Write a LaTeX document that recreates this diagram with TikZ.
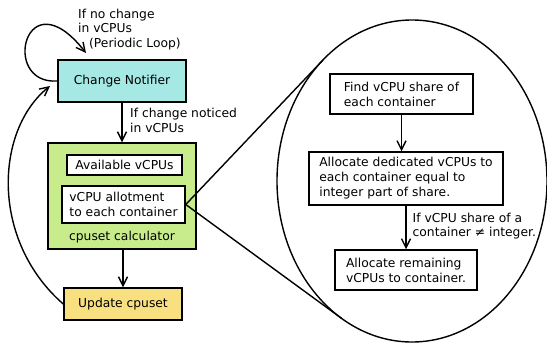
\documentclass[tikz,border=0pt]{standalone}
\usepackage{fontspec}
\setmainfont{DejaVu Sans}
\usetikzlibrary{arrows.meta,shapes.geometric}
\definecolor{notifycol}{RGB}{166,232,228}
\definecolor{calccol}{RGB}{200,236,140}
\definecolor{updatecol}{RGB}{248,224,128}
\tikzset{
  box/.style={draw, line width=1.5pt, inner sep=0pt, align=left},
  arr/.style={line width=1.4pt, -{Straight Barb[length=9pt,width=9pt,line width=1.4pt]}},
  lbl/.style={inner sep=0pt, align=left, anchor=north west, font=\fontsize{12.3}{14.6}\selectfont},
  link/.style={line width=1.4pt}
}
\begin{document}
\begin{tikzpicture}[x=1pt, y=-1pt, font=\fontsize{12.3}{15}\selectfont]
\useasboundingbox (0,0) rectangle (547,343);

% left-hand flow
\node[box, fill=notifycol, minimum width=128pt, minimum height=42pt] (notify) at (122,81) {Change Notifier};
\node[box, fill=calccol, minimum width=148pt, minimum height=106pt] (calc) at (122,196) {};
\node[box, fill=white, minimum width=115pt, minimum height=20pt] (avail) at (124.5,165) {Available vCPUs};
\node[box, fill=white, minimum width=123pt, minimum height=37pt] (allot) at (123.5,204.5) {vCPU allotment\\to each container};
\node[inner sep=0pt] (calclbl) at (122,237) {cpuset calculator};
\node[box, fill=updatecol, minimum width=118pt, minimum height=32pt] (update) at (123,304) {Update cpuset};

\draw[arr] (notify.south) -- (calc.north);
\draw[arr] (calc.south -| update.north) -- (update.north);

\node[lbl] (changelbl) at (130,108) {If change noticed\\in vCPUs};
\node[lbl] (looplbl) at (78,8.5) {If no change\\in vCPUs\\\hspace{11pt}(Periodic Loop)};

% periodic self loop
\coordinate (loopin) at (86,53);
\draw[arr] (notify.west) .. controls (0,85) and (25,-25) .. (loopin);

% feedback from update to notifier
\coordinate (backin) at (50,86);
\draw[arr] (update.west) .. controls (-10,240) and (-5,130) .. (backin);

% zoomed detail of the allotment step
\node[draw, ellipse, line width=1.4pt, minimum width=270pt, minimum height=322pt, inner sep=0pt] (detail) at (412,181) {};
\coordinate (tanup) at (323,60);
\coordinate (tandown) at (341.5,318.3);
\draw[link] (allot.east) -- (tanup);
\draw[link] (allot.east) -- (tandown);

\node[box, fill=white, minimum width=143pt, minimum height=40pt] (find) at (401.5,94) {Find vCPU share of\\each container};
\node[box, fill=white, minimum width=194pt, minimum height=53pt] (dedic) at (406,178.5) {Allocate dedicated vCPUs to\\each container equal to\\integer part of share.};
\node[box, fill=white, minimum width=142pt, minimum height=40pt] (remain) at (406,270) {Allocate remaining\\vCPUs to container.};

\draw[arr] (find.south) -- (find.south |- dedic.north);
\draw[arr] (remain.north |- dedic.south) -- (remain.north);
\node[lbl] (sharelbl) at (412.5,212.5) {If vCPU share of a\\container ≠ integer.};
\end{tikzpicture}
\end{document}
